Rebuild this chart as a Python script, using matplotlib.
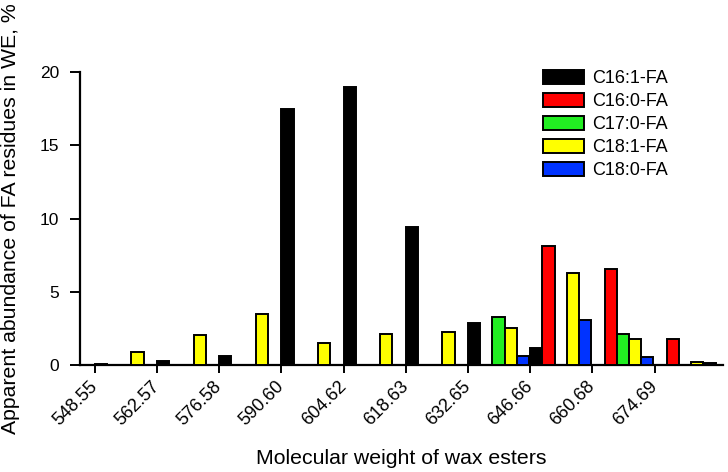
import matplotlib
matplotlib.use("Agg")
import matplotlib.pyplot as plt
import numpy as np

plt.rcParams['font.family'] = ['Liberation Sans', 'DejaVu Sans']

mw_labels = ["548.55", "562.57", "576.58", "590.60", "604.62",
             "618.63", "632.65", "646.66", "660.68", "674.69"]
series_names = ["C16:1-FA", "C16:0-FA", "C17:0-FA", "C18:1-FA", "C18:0-FA"]
c16_1 = [0.08, 0.3, 0.6, 17.45, 18.95, 9.45, 2.9, 1.15, 0.0, 0.0]
c16_0 = [0.0, 0.0, 0.0, 0.0, 0.0, 0.0, 0.0, 8.15, 6.55, 1.75]
c17_0 = [0.0, 0.0, 0.0, 0.0, 0.0, 0.0, 3.3, 0.0, 2.1, 0.0]
c18_1 = [0.9, 2.05, 3.5, 1.5, 2.1, 2.25, 2.55, 6.3, 1.75, 0.2]
c18_0 = [0.0, 0.0, 0.0, 0.0, 0.0, 0.0, 0.6, 3.1, 0.55, 0.15]
series = [c16_1, c16_0, c17_0, c18_1, c18_0]
colors = ["#000000", "#ff0000", "#22ee22", "#ffff00", "#0033ff"]

fig = plt.figure(figsize=(7.28, 4.72), dpi=100)
ax = fig.add_axes([80/728, 1-365/472, (723-80)/728, (365-72)/472])

x = np.arange(len(mw_labels))
w = 0.196
for i, (vals, name, col) in enumerate(zip(series, series_names, colors)):
    ax.bar(x + i*w, vals, width=w, align='edge', color=col,
           edgecolor='black', linewidth=1.4, label=name, zorder=3)

ax.set_xlim(-0.24, 10.1)
ax.set_ylim(0, 20)
ax.set_yticks([0, 5, 10, 15, 20])
ax.set_xticks(x)
ax.set_xticklabels(mw_labels, rotation=45, ha='right', va='center',
                   rotation_mode='anchor', fontsize=13)
ax.tick_params(axis='y', labelsize=12.5, width=1.4, length=7, pad=8, direction='out')
ax.tick_params(axis='x', width=1.4, length=5.5, pad=8, direction='out')
for s in ['top', 'right']:
    ax.spines[s].set_visible(False)
for s in ['left', 'bottom']:
    ax.spines[s].set_linewidth(1.6)

ax.set_xlabel("Molecular weight of wax esters", fontsize=15.3)
ax.xaxis.set_label_coords(0.5, -0.285)
ax.set_ylabel("Apparent abundance of FA residues in WE, %", fontsize=15.3)
ax.yaxis.set_label_coords(-0.093, 0.5)

leg = ax.legend(loc='upper left', bbox_to_anchor=(543/728, 1-70/472),
                bbox_transform=fig.transFigure, frameon=False, fontsize=13,
                handlelength=2.28, handleheight=0.83, labelspacing=0.31,
                handletextpad=0.45, borderpad=0, borderaxespad=0)

fig.savefig("out.png", dpi=100)
